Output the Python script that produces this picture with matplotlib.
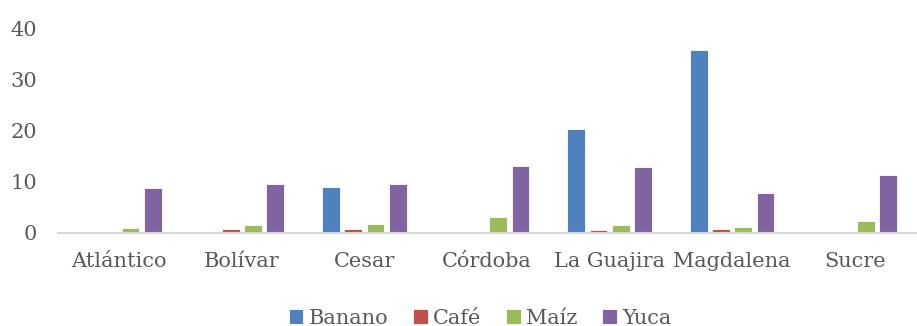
import matplotlib
matplotlib.use("Agg")
import matplotlib.pyplot as plt
import numpy as np

departamentos = ["Atlántico", "Bolívar", "Cesar", "Córdoba", "La Guajira", "Magdalena", "Sucre"]
banano = [0.0, 0.0, 9.0, 0.0, 20.2, 35.7, 0.0]
cafe = [0.0, 0.7, 0.65, 0.0, 0.5, 0.7, 0.0]
maiz = [1.0, 1.5, 1.7, 3.1, 1.6, 1.1, 2.2]
yuca = [8.7, 9.5, 9.6, 13.0, 12.9, 7.7, 11.3]
series_names = ["Banano", "Café", "Maíz", "Yuca"]
y_ticks = [0, 10, 20, 30, 40]

colors = ["#4F81BD", "#C0504D", "#9BBB59", "#8064A2"]
text_color = "#595959"
plt.rcParams["font.family"] = ["DejaVu Serif"]

fig = plt.figure(figsize=(9.17, 3.26), dpi=100)
ax = fig.add_axes([58 / 917, 93.3 / 326, 858 / 917, 204.7 / 326])

x = np.arange(len(departamentos))
step = 0.182
width = 0.145
for j, (name, vals) in enumerate(zip(series_names, [banano, cafe, maiz, yuca])):
    ax.bar(x + (j - 1.5) * step, vals, width=width, color=colors[j],
           edgecolor="white", linewidth=0.6, label=name, zorder=2)

ax.set_xlim(-0.5, len(departamentos) - 0.5)
ax.set_ylim(0, 40)
ax.set_yticks(y_ticks)
ax.set_xticks(x)
ax.set_xticklabels(departamentos)

for side in ["left", "right", "top"]:
    ax.spines[side].set_visible(False)
ax.spines["bottom"].set_color("#D9D9D9")
ax.spines["bottom"].set_linewidth(1.5)
ax.spines["bottom"].set_zorder(3)

ax.tick_params(axis="y", length=0, pad=15, labelsize=15, labelcolor=text_color)
ax.tick_params(axis="x", length=0, pad=14, labelsize=15, labelcolor=text_color)

leg = fig.legend(loc="center", bbox_to_anchor=(480 / 917, 1 - 318 / 326), ncol=4,
                 frameon=False, fontsize=15, handlelength=0.7, handleheight=0.7,
                 handletextpad=0.25, columnspacing=1.2, labelcolor=text_color,
                 borderaxespad=0)

fig.savefig("out.png", dpi=100)
